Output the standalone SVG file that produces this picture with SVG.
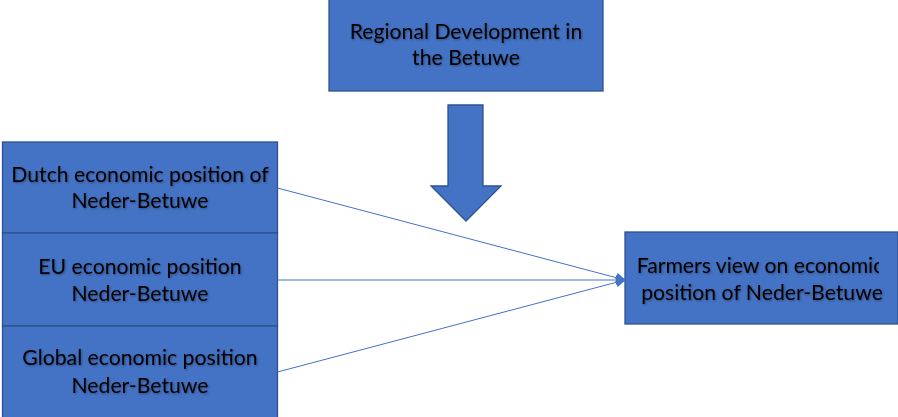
<svg xmlns="http://www.w3.org/2000/svg" width="898" height="417" viewBox="0 0 898 417">
  <style>
    .box { fill: #4472C4; stroke: #2F528F; stroke-width: 1.3; }
    .lbl { font-family: Lato, "Open Sans", "Liberation Sans", sans-serif; font-size: 21.2px; fill: #000; text-anchor: middle; filter: url(#soft); }
    .link { stroke: #4472C4; stroke-width: 1; fill: none; marker-end: url(#tip); }
  </style>
  <defs>
    <marker id="tip" viewBox="0 0 10 10" refX="9" refY="5" markerWidth="10" markerHeight="10" markerUnits="userSpaceOnUse" orient="auto">
      <path d="M0,0 L10,5 L0,10 Z" fill="#4472C4"/>
    </marker>
    <filter id="soft" x="-5%" y="-20%" width="110%" height="140%">
      <feDropShadow dx="1" dy="1" stdDeviation="0.8" flood-color="#000" flood-opacity="0.35"/>
    </filter>
    <clipPath id="rightClip"><rect x="625" y="232" width="254" height="92"/></clipPath>
  </defs>

  <rect width="898" height="417" fill="#fff"/>

  <g id="regional-development">
    <rect class="box" x="329" y="-2" width="274" height="93"/>
    <text class="lbl" x="466" y="39">Regional Development in</text>
    <text class="lbl" x="466" y="65">the Betuwe</text>
  </g>

  <g id="influence-arrow">
    <path class="box" d="M448,105 L483,105 L483,186 L501,186 L466,221 L431,186 L448,186 Z"/>
  </g>

  <g id="dutch-position">
    <rect class="box" x="2.5" y="142" width="275" height="91"/>
    <text class="lbl" x="140" y="182">Dutch economic position of</text>
    <text class="lbl" x="140" y="208">Neder-Betuwe</text>
  </g>

  <g id="eu-position">
    <rect class="box" x="2.5" y="233" width="275" height="93"/>
    <text class="lbl" x="140" y="274">EU economic position</text>
    <text class="lbl" x="140" y="301">Neder-Betuwe</text>
  </g>

  <g id="global-position">
    <rect class="box" x="2.5" y="326" width="275" height="95"/>
    <text class="lbl" x="140" y="365">Global economic position</text>
    <text class="lbl" x="140" y="393">Neder-Betuwe</text>
  </g>

  <g id="farmers-view">
    <rect class="box" x="625" y="232" width="273" height="92"/>
    <g clip-path="url(#rightClip)">
      <text class="lbl" x="760" y="273">Farmers view on economic</text>
    </g>
    <text class="lbl" x="762" y="300">position of Neder-Betuwe</text>
  </g>

  <g id="connectors">
    <line class="link" x1="277.5" y1="188" x2="625" y2="280"/>
    <line class="link" x1="277.5" y1="280" x2="625" y2="280"/>
    <line class="link" x1="277.5" y1="372" x2="625" y2="280"/>
  </g>
</svg>
